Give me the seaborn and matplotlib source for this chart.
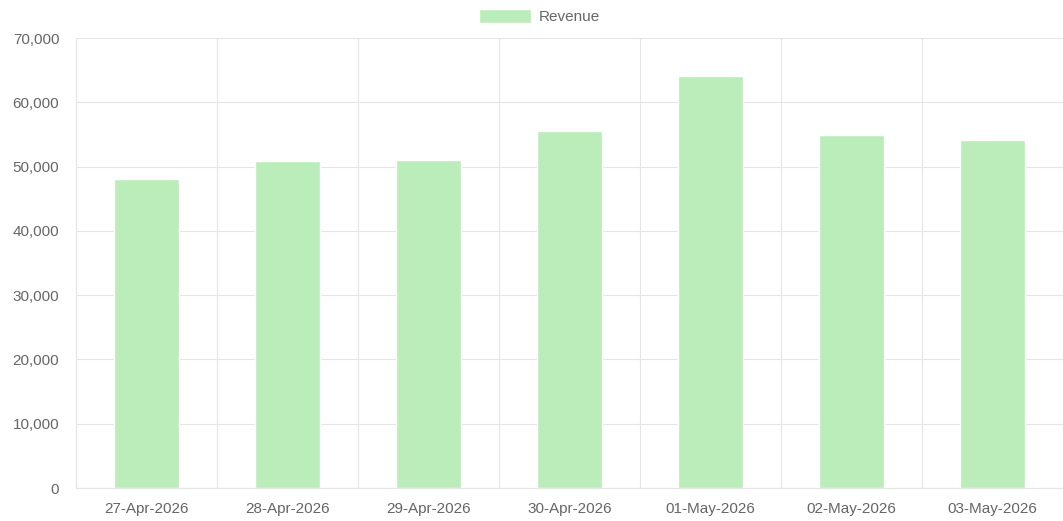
import numpy as np
import pandas as pd
import seaborn as sns
import matplotlib.pyplot as plt
from matplotlib.ticker import FuncFormatter, MultipleLocator, FixedLocator

# data
dates = ['27-Apr-2026', '28-Apr-2026', '29-Apr-2026', '30-Apr-2026',
         '01-May-2026', '02-May-2026', '03-May-2026']
revenue = [48050, 50850, 50950, 55600, 64070, 54850, 54200]

df = pd.DataFrame({'Date': dates, 'Revenue': revenue})

sns.set_style('white')
plt.rcParams['font.family'] = ['Liberation Sans', 'DejaVu Sans']

bar_col = '#bbedbb'
grid_col = '#e5e5e5'
txt_col = '#666666'
fs = 11

fig = plt.figure(figsize=(10.63, 5.21), dpi=100)
ax = fig.add_axes([76/1063, 33/521, 987/1063, 450/521])

sns.barplot(data=df, x='Date', y='Revenue', color=bar_col, width=0.455,
            saturation=1, label='Revenue', ax=ax)

ax.set_xlim(-0.5, len(dates) - 0.5)
ax.set_ylim(0, 70000)
ax.yaxis.set_major_locator(MultipleLocator(10000))
ax.yaxis.set_major_formatter(FuncFormatter(lambda v, p: f'{int(v):,}'))

# category boundaries carry the vertical grid and tick marks
ax.xaxis.set_minor_locator(FixedLocator(np.arange(-0.5, len(dates), 1.0)))
ax.tick_params(axis='x', which='major', length=0, pad=10, labelsize=fs, labelcolor=txt_col)
ax.tick_params(axis='x', which='minor', length=9, width=0.8, color=grid_col)
ax.tick_params(axis='y', which='major', length=9, width=0.8, color=grid_col,
               pad=3, labelsize=fs, labelcolor=txt_col)
ax.grid(True, which='minor', axis='x', color=grid_col, lw=0.8)
ax.grid(True, which='major', axis='y', color=grid_col, lw=0.8)
ax.set_axisbelow(True)

for s in ['top', 'right']:
    ax.spines[s].set_visible(False)
for s in ['left', 'bottom']:
    ax.spines[s].set_color(grid_col)
    ax.spines[s].set_linewidth(0.8)

ax.set_xlabel('')
ax.set_ylabel('')

leg = ax.legend(loc='center', bbox_to_anchor=(0.4696, 1.047), frameon=False,
                fontsize=fs, handlelength=3.4, handleheight=1.05, handletextpad=0.5,
                borderpad=0, labelcolor=txt_col)

fig.savefig('out.png', dpi=100)
